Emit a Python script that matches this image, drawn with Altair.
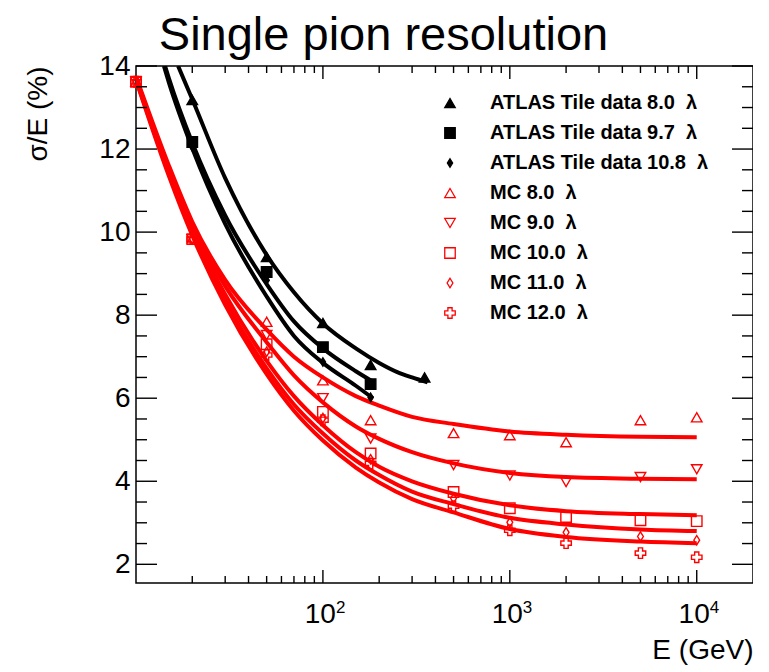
import altair as alt
import pandas as pd

# ---------------- data ----------------
# ATLAS Tile test-beam data (filled black markers)
ATLAS_80_E = [20, 50, 100, 180, 350]
ATLAS_80 = [13.18, 9.40, 7.81, 6.80, 6.50]
ATLAS_97_E = [20, 50, 100, 180]
ATLAS_97 = [12.17, 9.04, 7.23, 6.34]
ATLAS_108_E = [20, 50, 100, 180]
ATLAS_108 = [12.05, 8.84, 6.87, 6.02]

# Monte Carlo (open red markers)
MC_E = [10, 20, 50, 100, 180, 500, 1000, 2000, 5000, 10000]
MC_80 = [13.62, 9.85, 7.84, 6.43, 5.47, 5.16, 5.11, 4.94, 5.47, 5.54]
MC_90 = [13.62, 9.83, 7.52, 6.00, 5.03, 4.39, 4.14, 3.98, 4.10, 4.29]
MC_100 = [13.62, 9.83, 7.30, 5.67, 4.67, 3.74, 3.35, 3.14, 3.06, 3.04]
MC_110 = [13.62, 9.83, 7.12, 5.52, 4.53, 3.59, 3.01, 2.77, 2.67, 2.58]
MC_120 = [13.62, 9.83, 7.04, 5.47, 4.43, 3.40, 2.82, 2.51, 2.27, 2.17]

# fitted curves
FIT_A80_E = [16.8, 20, 30, 50, 70, 100, 150, 200, 250, 300, 363]
FIT_A80 = [14.0, 13.2, 11.3, 9.45, 8.55, 7.8, 7.2, 6.85, 6.63, 6.5, 6.38]
FIT_A97_E = [14.3, 15, 20, 30, 50, 70, 100, 150, 185]
FIT_A97 = [14.0, 13.7, 12.15, 10.4, 8.75, 7.85, 7.2, 6.65, 6.4]
FIT_A108_E = [14.1, 15, 20, 30, 50, 70, 100, 150, 185]
FIT_A108 = [14.0, 13.6, 12.02, 10.2, 8.45, 7.5, 6.85, 6.3, 6.0]

FIT_MC_E = [10, 15, 20, 30, 50, 70, 100, 150, 200, 300, 500, 1000, 2000, 5000, 10000]
FIT_MC80 = [13.75, 11.6, 10.25, 8.85, 7.65, 7.0, 6.5, 6.05, 5.82, 5.55, 5.38, 5.2, 5.12, 5.07, 5.06]
FIT_MC90 = [13.72, 11.5, 10.15, 8.7, 7.35, 6.55, 5.9, 5.32, 5.02, 4.7, 4.43, 4.2, 4.1, 4.06, 4.05]
FIT_MC100 = [13.7, 11.45, 10.05, 8.5, 6.9, 6.05, 5.35, 4.7, 4.35, 4.0, 3.7, 3.42, 3.28, 3.21, 3.18]
FIT_MC110 = [13.68, 11.4, 9.98, 8.35, 6.72, 5.85, 5.15, 4.5, 4.15, 3.75, 3.45, 3.12, 2.96, 2.84, 2.80]
FIT_MC120 = [13.66, 11.35, 9.92, 8.25, 6.58, 5.7, 4.98, 4.33, 3.97, 3.57, 3.25, 2.85, 2.66, 2.55, 2.51]

SERIES = [
    "ATLAS Tile data 8.0\u00a0 λ",
    "ATLAS Tile data 9.7\u00a0 λ",
    "ATLAS Tile data 10.8\u00a0 λ",
    "MC 8.0\u00a0 λ",
    "MC 9.0\u00a0 λ",
    "MC 10.0\u00a0 λ",
    "MC 11.0\u00a0 λ",
    "MC 12.0\u00a0 λ",
]

# axis ticks / labels
X_MAJOR = [100, 1000, 10000]
X_EXP = ["2", "3", "4"]
X_MINOR = [20, 30, 40, 50, 60, 70, 80, 90,
           200, 300, 400, 500, 600, 700, 800, 900,
           2000, 3000, 4000, 5000, 6000, 7000, 8000, 9000]
Y_MAJOR = [2, 4, 6, 8, 10, 12, 14]
Y_MINOR = [2.5, 3, 3.5, 4.5, 5, 5.5, 6.5, 7, 7.5, 8.5, 9, 9.5,
           10.5, 11, 11.5, 12.5, 13, 13.5]

# ---------------- styling ----------------
W, H = 617, 517
FONT = "Liberation Sans"
STROKES = ["black"] * 3 + ["red"] * 5
FILLS = ["black"] * 3 + ["transparent"] * 5
SHAPES = [
    "triangle-up",
    "square",
    "M0,-0.8L0.5,0L0,0.8L-0.5,0Z",
    "triangle-up",
    "triangle-down",
    "square",
    "M0,-0.9L0.55,0L0,0.9L-0.55,0Z",
    "cross",
]

# ---------------- tables ----------------
pts = []
for name, xs, ys in zip(
    SERIES,
    [ATLAS_80_E, ATLAS_97_E, ATLAS_108_E, MC_E, MC_E, MC_E, MC_E, MC_E],
    [ATLAS_80, ATLAS_97, ATLAS_108, MC_80, MC_90, MC_100, MC_110, MC_120],
):
    for e, v in zip(xs, ys):
        pts.append({"E": e, "res": v, "series": name})
pts = pd.DataFrame(pts)

crv = []
for name, col, xs, ys in zip(
    SERIES, STROKES,
    [FIT_A80_E, FIT_A97_E, FIT_A108_E, FIT_MC_E, FIT_MC_E, FIT_MC_E, FIT_MC_E, FIT_MC_E],
    [FIT_A80, FIT_A97, FIT_A108, FIT_MC80, FIT_MC90, FIT_MC100, FIT_MC110, FIT_MC120],
):
    for e, v in zip(xs, ys):
        crv.append({"E": e, "res": v, "series": name, "col": col})
crv = pd.DataFrame(crv)

XS = alt.Scale(type="log", domain=[10, 20000])
YS = alt.Scale(domain=[1.55, 14])

AX = alt.Axis(labels=False, ticks=False, domain=False, grid=False,
              title="E (GeV)", titleFontSize=28, titleFontWeight="normal",
              titleFont=FONT, titleAlign="right", titleX=W, titleY=75,
              titleBaseline="alphabetic")
AY = alt.Axis(values=Y_MAJOR, ticks=False, domain=False, grid=False,
              labelFontSize=28, labelFont=FONT, labelPadding=6,
              labelColor="black",
              title="σ/E (%)", titleFontSize=28, titleFontWeight="normal",
              titleFont=FONT, titleAngle=270, titleAlign="right",
              titleBaseline="middle", titleX=-98, titleY=0)


def xenc(f="E:Q"):
    return alt.X(f, scale=XS, axis=AX)


def yenc(f="res:Q"):
    return alt.Y(f, scale=YS, axis=AY)


LEG = alt.Legend(orient="none", legendX=304, legendY=27, title=None,
                 labelFontSize=20, labelFontWeight="bold", labelFont=FONT,
                 labelColor="black", symbolSize=110, symbolStrokeWidth=1.3,
                 rowPadding=10, labelOffset=30, padding=0, labelLimit=400)

lines = alt.Chart(crv).mark_line(interpolate="monotone", strokeWidth=4, clip=True).encode(
    x=xenc(), y=yenc(),
    color=alt.Color("col:N", scale=None),
    detail="series:N",
)

points = alt.Chart(pts).mark_point(filled=False, strokeWidth=1.4, size=110, opacity=1).encode(
    x=xenc(), y=yenc(),
    shape=alt.Shape("series:N", scale=alt.Scale(domain=SERIES, range=SHAPES), legend=LEG),
    color=alt.Color("series:N", scale=alt.Scale(domain=SERIES, range=STROKES), legend=LEG),
    fill=alt.Fill("series:N", scale=alt.Scale(domain=SERIES, range=FILLS), legend=LEG),
)

ymaj = pd.DataFrame({"v": Y_MAJOR})
ymin = pd.DataFrame({"v": Y_MINOR})
xmaj = pd.DataFrame({"E": X_MAJOR, "base": ["10"] * len(X_MAJOR), "exp": X_EXP})
xmin = pd.DataFrame({"E": X_MINOR})


def yticks(df, length):
    left = alt.Chart(df).mark_rule(color="black", strokeWidth=1.4).encode(
        y=yenc("v:Q"), x=alt.value(0), x2=alt.value(length))
    right = alt.Chart(df).mark_rule(color="black", strokeWidth=1.4).encode(
        y=yenc("v:Q"), x=alt.value(W), x2=alt.value(W - length))
    return [left, right]


def xticks(df, length):
    bottom = alt.Chart(df).mark_rule(color="black", strokeWidth=1.4).encode(
        x=xenc("E:Q"), y=alt.value(H), y2=alt.value(H - length))
    top = alt.Chart(df).mark_rule(color="black", strokeWidth=1.4).encode(
        x=xenc("E:Q"), y=alt.value(0), y2=alt.value(length))
    return [bottom, top]


xlab_base = alt.Chart(xmaj).mark_text(font=FONT, fontSize=28, align="right",
                                      baseline="alphabetic", dx=13, color="black").encode(
    x=xenc("E:Q"), y=alt.value(H + 40), text="base:N")
xlab_exp = alt.Chart(xmaj).mark_text(font=FONT, fontSize=17, align="left",
                                     baseline="alphabetic", dx=13, color="black").encode(
    x=xenc("E:Q"), y=alt.value(H + 30), text="exp:N")

layers = ([lines, points]
          + yticks(ymaj, 21) + yticks(ymin, 11)
          + xticks(xmaj, 13) + xticks(xmin, 7)
          + [xlab_base, xlab_exp])

chart = alt.layer(*layers).properties(
    width=W, height=H,
    title=alt.Title("Single pion resolution", fontSize=47, fontWeight="normal",
                    font=FONT, anchor="middle", frame="group", dx=-61, dy=18,
                    offset=10, color="black"),
    autosize=alt.AutoSizeParams(type="none"),
    padding={"left": 128, "top": 58, "right": 0, "bottom": 88},
).configure(font=FONT).configure_view(stroke="black", strokeWidth=1.5)

chart.save("out.html", embed_options={"renderer": "svg", "actions": False})
